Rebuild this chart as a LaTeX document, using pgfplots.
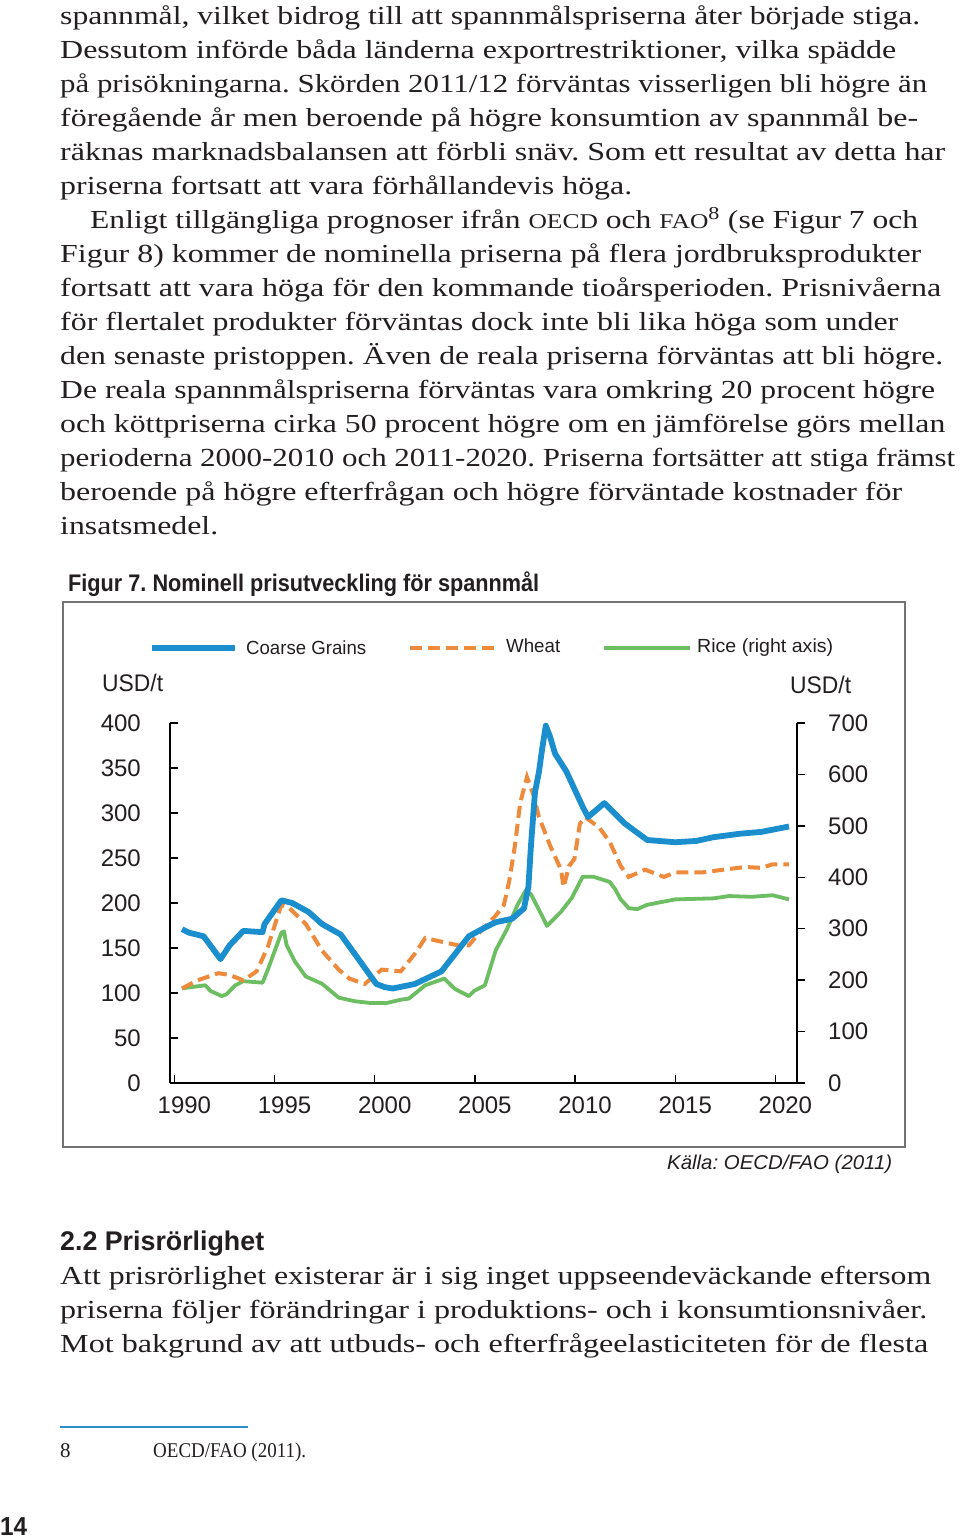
\documentclass[border=0pt]{standalone}
\usepackage{pgfplots}
\pgfplotsset{compat=1.18}
\usepackage{fontspec}
\usepackage{graphicx}
\setmainfont{Liberation Serif}
\setsansfont{Liberation Sans}
\frenchspacing
\definecolor{cgblue}{HTML}{1B8ECE}
\definecolor{whorange}{HTML}{EE8A3C}
\definecolor{rigreen}{HTML}{6DBE63}
\definecolor{txt}{HTML}{231F20}
\definecolor{footblue}{HTML}{2A8DC8}
\newcommand\bodyfont{\rmfamily\fontsize{26}{30}\selectfont}
\newcommand\chartfont{\sffamily\fontsize{24}{24}\selectfont}
\newcommand\legfont{\sffamily\fontsize{19}{19}\selectfont}
\newcommand\bl[4]{\node[anchor=base west,inner sep=0pt,text=txt,font=\bodyfont] at (#1,1539-#2) {\resizebox{#3pt}{\height}{#4}};}
\newcommand\sm[1]{{\fontsize{21}{21}\selectfont #1}}

\pgfplotstableread{
x y
1990.38 170.8
1990.73 167
1991.46 163
1992.30 137.6
1992.76 153
1993.44 169
1994.40 167.6
1994.50 176.6
1995.34 203
1995.88 200
1996.70 190
1997.37 176.6
1998.30 165
1999.00 143.5
2000.08 110
2000.50 106.5
2000.90 105
2002.00 110
2003.33 124
2004.70 163
2005.50 172.7
2006.04 178.6
2006.86 182.5
2007.45 194
2007.67 217.6
2007.80 264
2008.00 323
2008.20 346
2008.35 370
2008.54 397
2008.75 385
2009.00 366
2009.57 346
2010.38 307
2010.65 295.5
2011.46 311
2012.50 288
2013.60 270
2015.00 267.5
2016.07 269
2016.88 273
2018.24 277
2019.30 279
2020.68 285
}\coarse

\pgfplotstableread{
x y
1990.38 105
1991.14 114
1992.20 122
1992.76 120
1993.44 114
1994.10 124
1994.66 151
1995.34 198
1995.75 194
1996.56 176.6
1997.37 147
1998.20 126
1998.73 116
1999.50 110
2000.35 126
2001.30 124
2002.00 143.5
2002.52 161
2003.33 157
2004.15 153
2004.70 153
2005.23 167
2006.04 186
2006.45 198
2006.72 225
2007.00 264
2007.26 311
2007.60 340
2007.94 319
2008.20 295.5
2008.75 264
2009.30 237
2009.43 217.6
2009.70 241
2009.97 249
2010.24 288
2010.50 295.5
2011.20 284
2011.73 268
2012.28 241
2012.68 229
2013.50 237
2014.44 229
2015.00 234
2016.34 234
2017.40 237
2018.50 240
2019.30 239
2019.86 243
2020.68 243
}\wheat

\pgfplotstableread{
x y
1990.38 184
1991.54 190
1991.80 179
1992.36 169
1992.60 172.5
1993.04 190
1993.44 198
1994.40 195
1994.66 220
1995.34 292
1995.47 295
1995.60 268
1996.00 237
1996.56 207
1997.37 193
1998.20 166
1999.00 159
1999.80 155.5
2000.60 155.5
2001.30 162
2001.70 164
2002.52 190
2003.47 203
2004.00 183
2004.70 169
2004.96 179
2005.50 190
2006.04 258
2006.60 299
2007.13 346.5
2007.53 374
2007.80 367
2008.34 326
2008.60 305.5
2009.30 333
2009.84 360
2010.38 401
2010.92 401
2011.73 391
2012.00 377
2012.28 357
2012.68 340
2013.10 338
2013.60 346.5
2015.00 357
2016.90 359
2017.70 363.5
2018.80 362
2019.86 365
2020.68 357
}\rice

\begin{document}
\begin{tikzpicture}[x=1pt,y=1pt]
\useasboundingbox (0,0) rectangle (960,1539);
\fill[white] (0,0) rectangle (960,1539);

% body text
\bl{60}{25}{860}{spannmål, vilket bidrog till att spannmålspriserna åter började stiga.}
\bl{60}{59}{836}{Dessutom införde båda länderna exportrestriktioner, vilka spädde}
\bl{60}{93}{867}{på prisökningarna. Skörden 2011/12 förväntas visserligen bli högre än}
\bl{60}{127}{858}{föregående år men beroende på högre konsumtion av spannmål be-}
\bl{60}{161}{885}{räknas marknadsbalansen att förbli snäv. Som ett resultat av detta har}
\bl{60}{195}{572}{priserna fortsatt att vara förhållandevis höga.}
\bl{90}{229}{828}{Enligt tillgängliga prognoser ifrån \sm{OECD} och \sm{FAO}\textsuperscript{8} (se Figur 7 och}
\bl{60}{263}{861}{Figur 8) kommer de nominella priserna på flera jordbruksprodukter}
\bl{60}{297}{881}{fortsatt att vara höga för den kommande tioårsperioden. Prisnivåerna}
\bl{60}{331}{838}{för flertalet produkter förväntas dock inte bli lika höga som under}
\bl{60}{365}{883}{den senaste pristoppen. Även de reala priserna förväntas att bli högre.}
\bl{60}{399}{875}{De reala spannmålspriserna förväntas vara omkring 20 procent högre}
\bl{60}{433}{885}{och köttpriserna cirka 50 procent högre om en jämförelse görs mellan}
\bl{60}{467}{895}{perioderna 2000-2010 och 2011-2020. Priserna fortsätter att stiga främst}
\bl{60}{501}{842}{beroende på högre efterfrågan och högre förväntade kostnader för}
\bl{60}{535}{158}{insatsmedel.}

% figure title and frame
\node[anchor=base west,inner sep=0pt,text=txt,font=\sffamily\bfseries\fontsize{24}{24}\selectfont] at (68,1539-592) {\resizebox{471pt}{\height}{Figur 7. Nominell prisutveckling för spannmål}};
\draw[black!55, line width=1.4pt] (63,392) rectangle (905,937);

% legend
\draw[cgblue, line width=5.5pt] (152,891) -- (235,891);
\node[anchor=west,inner sep=0pt,text=txt,font=\legfont] at (246,891) {\resizebox{120pt}{\height}{Coarse Grains}};
\draw[whorange, line width=4pt, dash pattern=on 12pt off 6pt] (410,891) -- (495,891);
\node[anchor=west,inner sep=0pt,text=txt,font=\legfont] at (506,893) {\resizebox{54pt}{\height}{Wheat}};
\draw[rigreen, line width=4pt] (604,891) -- (690,891);
\node[anchor=west,inner sep=0pt,text=txt,font=\legfont] at (697,891) {\resizebox{136pt}{\height}{Rice (right axis)}};

\node[anchor=west,inner sep=0pt,text=txt,font=\chartfont] at (102,856) {\resizebox{61pt}{\height}{USD/t}};
\node[anchor=west,inner sep=0pt,text=txt,font=\chartfont] at (790,854) {\resizebox{61pt}{\height}{USD/t}};

% right axis (rice)
\begin{axis}[
  at={(170pt,456pt)}, anchor=south west, scale only axis,
  width=627pt, height=360pt,
  xmin=1989.78, xmax=2021.08, ymin=0, ymax=700,
  axis x line=none, axis y line*=right,
  ytick={0,100,...,700},
  tick align=outside, major tick length=8pt,
  axis line style={line width=1.8pt, black},
  tick style={line width=1.4pt, black},
  /pgf/number format/assume math mode=true,
  yticklabel style={font=\chartfont, text=txt, anchor=west, inner sep=0pt, xshift=23pt},
  clip=false,
]
\addplot[rigreen, line width=3.8pt, line join=round] table[x=x,y=y] {\rice};
\end{axis}

% left axis (coarse grains, wheat)
\begin{axis}[
  at={(170pt,456pt)}, anchor=south west, scale only axis,
  width=627pt, height=360pt,
  xmin=1989.78, xmax=2021.08, ymin=0, ymax=400,
  axis x line*=bottom, axis y line*=left,
  xtick={1990,1995,...,2020},
  ytick={0,50,...,400},
  tick align=inside, major tick length=8pt,
  axis line style={line width=1.8pt, black},
  x axis line style={shorten >=-7pt},
  tick style={line width=1.4pt, black},
  /pgf/number format/assume math mode=true,
  /pgf/number format/1000 sep={},
  yticklabel style={font=\chartfont, text=txt, anchor=east, inner sep=0pt, xshift=-29pt},
  xticklabel style={font=\chartfont, text=txt, anchor=north, inner sep=0pt, yshift=-14pt, xshift=10pt},
  clip=false,
]
\addplot[whorange, line width=4pt, dash pattern=on 12pt off 6pt] table[x=x,y=y] {\wheat};
\addplot[cgblue, line width=5.8pt, line join=round] table[x=x,y=y] {\coarse};
\end{axis}

\node[anchor=base west,inner sep=0pt,text=txt,font=\sffamily\itshape\fontsize{20}{20}\selectfont] at (667,1539-1170) {\resizebox{225pt}{\height}{Källa: OECD/FAO (2011)}};

% section
\node[anchor=base west,inner sep=0pt,text=txt,font=\sffamily\bfseries\fontsize{27}{27}\selectfont] at (60,1539-1251) {\resizebox{204pt}{\height}{2.2 Prisrörlighet}};
\bl{60}{1285}{871}{Att prisrörlighet existerar är i sig inget uppseendeväckande eftersom}
\bl{60}{1319}{867}{priserna följer förändringar i produktions- och i konsumtionsnivåer.}
\bl{60}{1353}{868}{Mot bakgrund av att utbuds- och efterfrågeelasticiteten för de flesta}

% footnote
\draw[footblue, line width=2.5pt] (60,112) -- (248,112);
\node[anchor=base west,inner sep=0pt,text=txt,font=\rmfamily\fontsize{21}{21}\selectfont] at (60,81) {8};
\node[anchor=base west,inner sep=0pt,text=txt,font=\rmfamily\fontsize{21}{21}\selectfont] at (153,81) {\resizebox{153pt}{\height}{OECD/FAO (2011).}};
\node[anchor=base west,inner sep=0pt,text=txt,font=\sffamily\bfseries\fontsize{26}{26}\selectfont] at (0,4) {\resizebox{27pt}{\height}{14}};
\end{tikzpicture}
\end{document}
